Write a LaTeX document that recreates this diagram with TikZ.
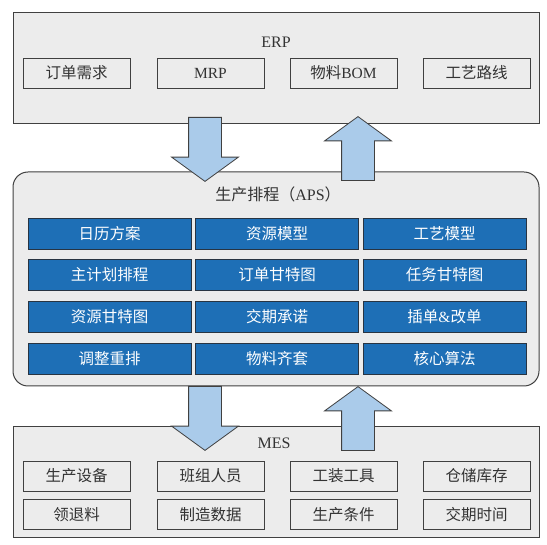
\documentclass[tikz,border=0pt]{standalone}
\usepackage{fontspec}
\setmainfont{Liberation Serif}
\newfontfamily\cjk{Noto Sans CJK SC}
\usepackage{tikz}
\usetikzlibrary{positioning, shapes, arrows}
\definecolor{gris}{RGB}{236, 236, 236}
\definecolor{borde}{RGB}{64, 64, 64}
\definecolor{texto}{RGB}{51, 51, 51}
\definecolor{azul}{RGB}{30, 111, 182}
\definecolor{bordeazul}{RGB}{40, 52, 66}
\definecolor{celeste}{RGB}{170, 203, 234}
\newcommand{\zh}[1]{{\cjk #1}}
\tikzset{
    sist/.style={draw=borde, fill=gris, rectangle, line width=1pt, inner sep=0pt},
    caja/.style={draw=borde, fill=gris, rectangle, line width=0.8pt, text=texto, minimum width=107pt, minimum height=30pt, inner sep=0pt, font=\fontsize{15.5}{18}\selectfont},
    modulo/.style={draw=bordeazul, fill=azul, rectangle, line width=0.8pt, text=white, minimum width=163pt, minimum height=31pt, inner sep=0pt, font=\fontsize{15.5}{18}\selectfont},
    titulo/.style={text=texto, inner sep=0pt, font=\fontsize{16}{18}\selectfont},
    flecha/.style={single arrow, draw=borde, fill=celeste, line width=0.8pt, inner sep=16pt, minimum height=64pt, single arrow head extend=17pt, single arrow head indent=0pt, single arrow tip angle=108, anchor=tail},
}
\begin{document}
\begin{tikzpicture}[x=1pt, y=-1pt]
    \useasboundingbox (0,0) rectangle (547,545);

    % ERP
    \node [sist, minimum width=526pt, minimum height=111pt] (erp) at (276,68.5) {};
    \node [titulo] (erpT) at (276,42) {ERP};
    \node [caja] (e1) at (76.5,73) {\zh{订单需求}};
    \node [caja] (e2) at (210.5,73) {MRP};
    \node [caja] (e3) at (343.5,73) {\zh{物料}BOM};
    \node [caja] (e4) at (476.5,73) {\zh{工艺路线}};

    % APS
    \node [sist, rounded corners=15pt, minimum width=526pt, minimum height=214pt] (aps) at (276,279) {};
    \node [titulo] (apsT) at (278,194) {\zh{生产排程（}APS\zh{）}};
    \node [modulo] (a1) at (109.5,233.5) {\zh{日历方案}};
    \node [modulo] (a2) at (277,233.5) {\zh{资源模型}};
    \node [modulo] (a3) at (444.5,233.5) {\zh{工艺模型}};
    \node [modulo] (a4) at (109.5,275) {\zh{主计划排程}};
    \node [modulo] (a5) at (277,275) {\zh{订单甘特图}};
    \node [modulo] (a6) at (444.5,275) {\zh{任务甘特图}};
    \node [modulo] (a7) at (109.5,317) {\zh{资源甘特图}};
    \node [modulo] (a8) at (277,317) {\zh{交期承诺}};
    \node [modulo] (a9) at (444.5,317) {\zh{插单}\&\zh{改单}};
    \node [modulo] (a10) at (109.5,359) {\zh{调整重排}};
    \node [modulo] (a11) at (277,359) {\zh{物料齐套}};
    \node [modulo] (a12) at (444.5,359) {\zh{核心算法}};

    % MES
    \node [sist, minimum width=526pt, minimum height=111pt] (mes) at (276,482.5) {};
    \node [titulo] (mesT) at (274,443) {MES};
    \node [caja] (m1) at (76.5,476) {\zh{生产设备}};
    \node [caja] (m2) at (210.5,476) {\zh{班组人员}};
    \node [caja] (m3) at (343.5,476) {\zh{工装工具}};
    \node [caja] (m4) at (476.5,476) {\zh{仓储库存}};
    \node [caja] (m5) at (76.5,514.5) {\zh{领退料}};
    \node [caja] (m6) at (210.5,514.5) {\zh{制造数据}};
    \node [caja] (m7) at (343.5,514.5) {\zh{生产条件}};
    \node [caja] (m8) at (476.5,514.5) {\zh{交期时间}};

    % flujos
    \node [flecha, shape border rotate=270] (erp2aps) at (205,117) {};
    \node [flecha, shape border rotate=90] (aps2erp) at (358,181) {};
    \node [flecha, shape border rotate=270] (aps2mes) at (205,386) {};
    \node [flecha, shape border rotate=90] (mes2aps) at (358,451) {};
\end{tikzpicture}
\end{document}
